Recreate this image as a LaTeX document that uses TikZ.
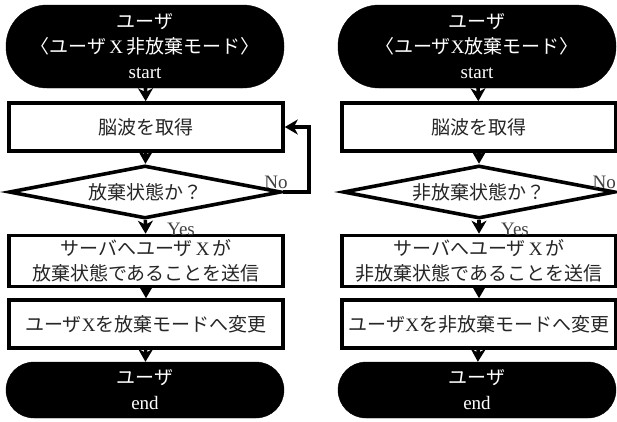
\documentclass[tikz,border=0pt]{standalone}
\usepackage{fontspec}
\setmainfont{Liberation Serif}
\newfontfamily\cjk{Noto Sans CJK JP}
\usetikzlibrary{arrows.meta,shapes.geometric,calc}
\begin{document}
\begin{tikzpicture}[x=1pt,y=-1pt,
  base/.style={font=\fontsize{19}{25}\selectfont, inner sep=0pt, align=center, text=black!85},
  term/.style={base, fill=black, draw=black, text=white, minimum width=278pt},
  proc/.style={base, draw=black, line width=3.6pt, fill=white, minimum width=274pt},
  dia/.style={base, diamond, draw=black, line width=3.6pt, aspect=5, minimum width=272pt, minimum height=53pt},
  arr/.style={line width=3.6pt, -{Stealth[length=13pt,width=15pt,inset=4pt]}},
  lbl/.style={font=\fontsize{19}{19}\selectfont, text=black!75, inner sep=0pt}]
\clip (0,0) rectangle (617,421);
\fill[white] (0,0) rectangle (617,421);

% ---------- left flow ----------
\node[term, minimum height=83pt, rounded corners=41pt] (Lstart) at (145,46.5)
  {{\cjk ユーザ}\\{\cjk 〈ユーザ}\,X\,{\cjk 非放棄モード〉}\\start};
\node[proc, minimum height=48pt] (Lget) at (146,127) {{\cjk 脳波を取得}};
\node[dia] (Ldec) at (145,192) {{\cjk 放棄状態か？}};
\node[proc, minimum height=51pt] (Lsend) at (146,261)
  {{\cjk サーバへユーザ}\,X\,{\cjk が}\\{\cjk 放棄状態であることを送信}};
\node[proc, minimum height=48pt] (Lchg) at (146,324) {{\cjk ユーザ}X{\cjk を放棄モードへ変更}};
\node[term, minimum height=56pt, rounded corners=28pt] (Lend) at (145,390)
  {{\cjk ユーザ}\\end};

\draw[arr] (Lstart) -- (Lget);
\draw[arr] (Lget) -- (Ldec);
\draw[arr] (Ldec) -- (Lsend);
\draw[arr] (Lsend) -- (Lchg);
\draw[arr] (Lchg) -- (Lend);
\draw[arr] (Ldec.east) -- ++(26,0) |- (Lget.east);
\node[lbl, anchor=base east] (Lno) at ($(Ldec.east)+(5,-4)$) {No};
\node[lbl, anchor=base west] (Lyes) at ($(Ldec.south)+(22,15)$) {Yes};

% ---------- right flow ----------
\node[term, minimum height=83pt, rounded corners=41pt] (Rstart) at (477,46.5)
  {{\cjk ユーザ}\\{\cjk 〈ユーザ}X{\cjk 放棄モード〉}\\start};
\node[proc, minimum height=48pt] (Rget) at (479,127) {{\cjk 脳波を取得}};
\node[dia] (Rdec) at (479,192) {{\cjk 非放棄状態か？}};
\node[proc, minimum height=51pt] (Rsend) at (479,261)
  {{\cjk サーバへユーザ}\,X\,{\cjk が}\\{\cjk 非放棄状態であることを送信}};
\node[proc, minimum height=48pt] (Rchg) at (479,324) {{\cjk ユーザ}X{\cjk を非放棄モードへ変更}};
\node[term, minimum height=56pt, rounded corners=28pt] (Rend) at (477,390)
  {{\cjk ユーザ}\\end};

\draw[arr] (Rstart) -- (Rget);
\draw[arr] (Rget) -- (Rdec);
\draw[arr] (Rdec) -- (Rsend);
\draw[arr] (Rsend) -- (Rchg);
\draw[arr] (Rchg) -- (Rend);
\draw[arr] (Rdec.east) -- ++(26,0) |- (Rget.east);
\node[lbl, anchor=base east] (Rno) at (616,188) {No};
\node[lbl, anchor=base west] (Ryes) at ($(Rdec.south)+(22,15)$) {Yes};
\end{tikzpicture}
\end{document}
